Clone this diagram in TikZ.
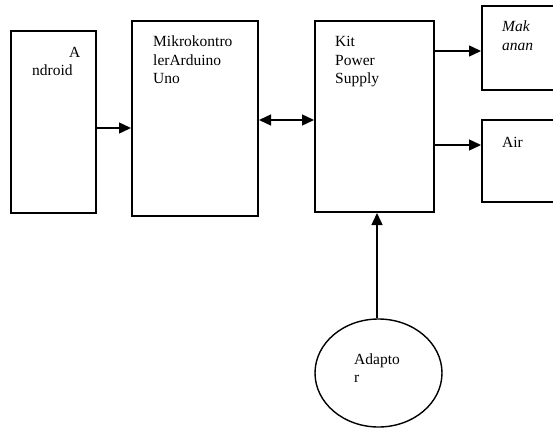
\documentclass[tikz,border=0pt]{standalone}
\usepackage{fontspec}
\setmainfont{Liberation Serif}
\usetikzlibrary{arrows.meta,shapes.geometric}
\begin{document}
\begin{tikzpicture}[x=1pt,y=-1pt,
  blk/.style={draw,line width=2pt,inner sep=0pt},
  lbl/.style={anchor=base west,inner sep=0pt,font=\fontsize{15.5}{18}\selectfont},
  arr/.style={line width=1.4pt,-{Triangle[length=12pt,width=11pt]}},
  darr/.style={line width=1.4pt,{Triangle[length=12pt,width=11pt]}-{Triangle[length=12pt,width=11pt]}}]
\useasboundingbox (0,0) rectangle (553,428);
\clip (0,0) rectangle (553,428);
\fill[white] (0,0) rectangle (553,428);
% boxes
\node[blk,minimum width=85pt,minimum height=181pt] (and) at (53,122) {};
\node[blk,minimum width=126pt,minimum height=195pt] (ard) at (195,118.5) {};
\node[blk,minimum width=119pt,minimum height=191pt] (kit) at (374.5,116.5) {};
\node[blk,minimum width=90pt,minimum height=84pt] (mak) at (527,48) {};
\node[blk,minimum width=90pt,minimum height=82pt] (air) at (527,161) {};
\node[draw,line width=1.4pt,ellipse,minimum width=127pt,minimum height=108pt,inner sep=0pt] (ad) at (378.5,373) {};
% texts
\node[lbl] (tA) at (69,57) {A};
\node[lbl] (tA2) at (32,75) {ndroid};
\node[lbl] (t1) at (153,47) {Mikrokontro};
\node[lbl] (t2) at (153,65) {lerArduino};
\node[lbl] (t3) at (153,83) {Uno};
\node[lbl] (k1) at (335,46) {Kit};
\node[lbl] (k2) at (335,65) {Power};
\node[lbl] (k3) at (335,83) {Supply};
\node[lbl] (m1) at (502,32) {\itshape Mak};
\node[lbl] (m2) at (502,50) {\itshape anan};
\node[lbl] (a1) at (502,147) {Air};
\node[lbl] (d1) at (354,364) {Adapto};
\node[lbl] (d2) at (354,382) {r};
% connectors
\coordinate (y1) at (0,128);
\coordinate (y2) at (0,120);
\coordinate (y3) at (0,51);
\coordinate (y4) at (0,145);
\coordinate (x5) at (377,0);
\draw[arr] (and.east |- y1) -- (ard.west |- y1);
\draw[darr] (ard.east |- y2) -- (kit.west |- y2);
\draw[arr] (kit.east |- y3) -- (mak.west |- y3);
\draw[arr] (kit.east |- y4) -- (air.west |- y4);
\draw[arr] (x5 |- ad.north) -- (x5 |- kit.south);
\end{tikzpicture}
\end{document}
